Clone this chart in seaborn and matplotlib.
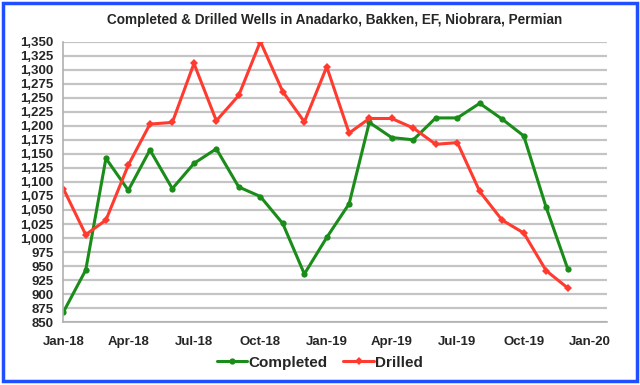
import matplotlib
matplotlib.use("Agg")
import matplotlib.pyplot as plt
import matplotlib.dates as mdates
import matplotlib.ticker as mticker
from matplotlib.patches import Rectangle
import numpy as np
import pandas as pd
import seaborn as sns

# %% data (monthly, Jan-18 .. Dec-19)
months = pd.date_range("2018-01-01", "2019-12-01", freq="MS")
completed = [868, 943, 1142, 1085, 1157, 1088, 1133, 1159, 1091, 1074, 1026, 936,
             1001, 1061, 1206, 1179, 1175, 1214, 1214, 1240, 1212, 1182, 1055, 945]
drilled = [1088, 1006, 1032, 1130, 1203, 1206, 1311, 1209, 1254, 1350, 1261, 1207,
           1305, 1187, 1213, 1213, 1196, 1167, 1170, 1083, 1032, 1009, 942, 911]

df = pd.DataFrame({"date": months, "Completed": completed, "Drilled": drilled})
df_long = df.melt(id_vars="date", var_name="series", value_name="wells")

# %% plot
sns.set_style("white")
plt.rcParams["font.family"] = ["Liberation Sans", "DejaVu Sans"]
plt.rcParams["font.weight"] = "bold"

fig = plt.figure(figsize=(6.4, 3.85), dpi=100)
ax = fig.add_axes([0.099, 0.163, 0.849, 0.729])

palette = {"Completed": "#1a8c1a", "Drilled": "#ff3b30"}
markers = {"Completed": "o", "Drilled": "D"}
sns.lineplot(data=df_long, x="date", y="wells", hue="series", style="series",
             palette=palette, markers=markers, dashes=False, lw=2.2,
             markersize=4.5, markeredgewidth=0, ax=ax)

ax.set_ylim(850, 1350)
ax.yaxis.set_major_locator(mticker.MultipleLocator(25))
ax.yaxis.set_major_formatter(mticker.FuncFormatter(lambda v, p: f"{int(v):,}"))
ax.set_xlim(pd.Timestamp("2018-01-01"), pd.Timestamp("2020-01-24"))
ax.xaxis.set_major_locator(mdates.MonthLocator(bymonth=[1, 4, 7, 10]))
ax.xaxis.set_major_formatter(mdates.DateFormatter("%b-%y"))

ax.grid(axis="y", color="#c4c4c4", lw=1.6)
ax.set_axisbelow(True)
for side in ["top", "right"]:
    ax.spines[side].set_visible(False)
for side in ["left", "bottom"]:
    ax.spines[side].set_color("#b0b0b0")
    ax.spines[side].set_linewidth(1.2)
ax.tick_params(axis="both", which="major", length=4, color="#b0b0b0",
               labelsize=9.5, direction="out", pad=3)
ax.tick_params(axis="x", pad=6)
for lab in ax.get_xticklabels() + ax.get_yticklabels():
    lab.set_fontweight("bold")

ax.set(xlabel="", ylabel="")
ax.set_title("Completed & Drilled Wells in Anadarko, Bakken, EF, Niobrara, Permian",
             fontsize=9.8, fontweight="bold", pad=13)

handles, labels = ax.get_legend_handles_labels()
ax.legend_.remove()
fig.legend(handles, labels, loc="center", bbox_to_anchor=(0.5, 0.058), ncol=2,
           frameon=False, handlelength=2.0, handletextpad=0.1,
           columnspacing=1.0, prop={"weight": "bold", "size": 11})

# blue outer frame
fig.patches.append(Rectangle((0.004, 0.01), 0.992, 0.983, transform=fig.transFigure,
                             fill=False, edgecolor="#1f4fff", lw=2.5))

fig.savefig("out.png", dpi=100)
